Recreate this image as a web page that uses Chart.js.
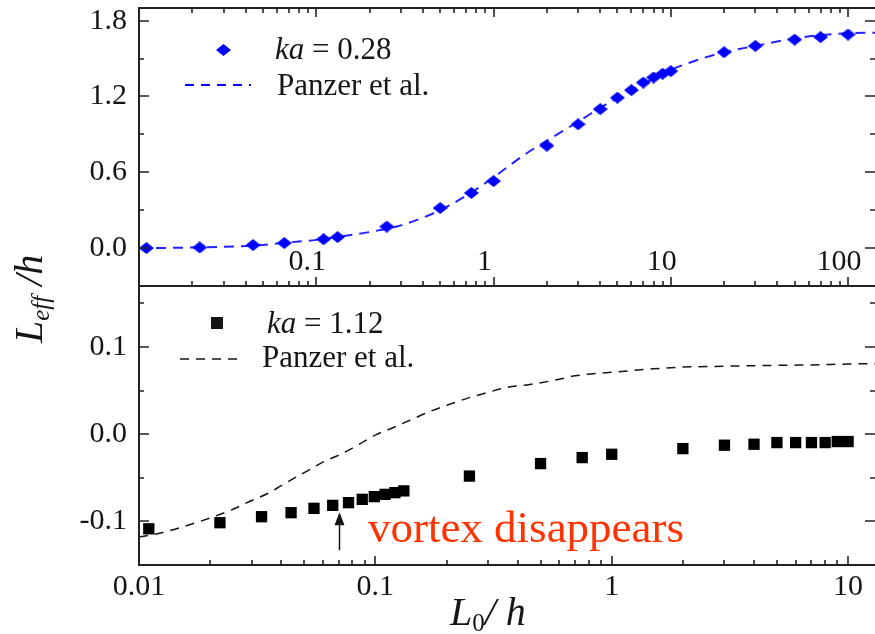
<!DOCTYPE html>
<html>
<head>
<meta charset="utf-8">
<script src="https://cdn.jsdelivr.net/npm/chart.js@4.4.0/dist/chart.umd.min.js"></script>
<style>
  html, body { margin: 0; padding: 0; background: #fff; }
  #wrap { position: relative; width: 875px; height: 634px; overflow: hidden; }
  #wrap canvas { position: absolute; left: 0; top: 0; }
</style>
</head>
<body>
<div id="wrap">
  <canvas id="topChart" width="875" height="634"></canvas>
  <canvas id="bottomChart" width="875" height="634"></canvas>
</div>
<script>
/* ── Data: upper panel (ka = 0.28) ── */
const topX = [0.011, 0.022, 0.044, 0.066, 0.11, 0.132, 0.25, 0.5, 0.75, 1, 2, 3, 4, 5, 6, 7, 8, 9, 10, 20, 30, 50, 70, 100];
const topY = [0.0, 0.005, 0.024, 0.04, 0.07, 0.087, 0.17, 0.317, 0.436, 0.53, 0.81, 0.98, 1.10, 1.19, 1.25, 1.31, 1.35, 1.38, 1.40, 1.55, 1.60, 1.65, 1.67, 1.69];
const topFitX = [0.01, 0.02, 0.03, 0.05, 0.07, 0.1, 0.15, 0.2, 0.3, 0.5, 0.75, 1, 1.5, 2, 3, 4, 5, 7, 10, 15, 20, 30, 50, 70, 100, 142];
const topFitY = [0.0, 0.004, 0.01, 0.025, 0.045, 0.065, 0.1, 0.127, 0.18, 0.30, 0.44, 0.56, 0.74, 0.85, 1.0, 1.11, 1.19, 1.30, 1.41, 1.50, 1.55, 1.60, 1.66, 1.685, 1.70, 1.705];

/* ── Data: lower panel (ka = 1.12) ── */
const botX = [0.011, 0.022, 0.033, 0.044, 0.055, 0.066, 0.077, 0.088, 0.099, 0.11, 0.121, 0.132, 0.25, 0.5, 0.75, 1, 2, 3, 4, 5, 6, 7, 8, 9, 10];
const botY = [-0.1085, -0.1015, -0.0946, -0.090, -0.085, -0.0816, -0.0785, -0.0747, -0.0716, -0.069, -0.067, -0.065, -0.048, -0.0337, -0.0268, -0.023, -0.0165, -0.0126, -0.0115, -0.0096, -0.0096, -0.0096, -0.0096, -0.0084, -0.0084];
const botFitX = [0.01, 0.0125, 0.015, 0.02, 0.025, 0.03, 0.035, 0.04, 0.045, 0.05, 0.06, 0.07, 0.08, 0.09, 0.1, 0.12, 0.14, 0.17, 0.2, 0.25, 0.3, 0.35, 0.45, 0.6, 0.7, 1, 1.5, 2, 3, 5, 7, 10, 13];
const botFitY = [-0.118, -0.113, -0.107, -0.096, -0.086, -0.076, -0.068, -0.059, -0.051, -0.044, -0.032, -0.024, -0.016, -0.008, -0.001, 0.008, 0.016, 0.026, 0.033, 0.042, 0.048, 0.053, 0.057, 0.063, 0.067, 0.071, 0.075, 0.077, 0.078, 0.079, 0.0795, 0.0805, 0.081];

/* ── Axes ── */
const topXTicks  = [0.1, 1, 10, 100];
const topXLabels = ['0.1', '1', '10', '100'];
const topYTicks  = [0, 0.6, 1.2, 1.8];
const topYMinor  = [0.3, 0.9, 1.5];
const botXTicks  = [0.01, 0.1, 1, 10];
const botXLabels = ['0.01', '0.1', '1', '10'];
const botYTicks  = [-0.1, 0, 0.1];
const botYMinor  = [-0.05, 0.05, 0.15];

/* ── Annotation ── */
const arrowX = 0.07, arrowFrom = -0.133, arrowTo = -0.0895;
const noteX = 0.093, noteY = -0.124, noteText = 'vortex disappears';

const SERIF = '"Liberation Serif", "Times New Roman", serif';
const INK = '#151515';
const BLUE = '#0000ff';

function pts(xs, ys) { return xs.map((x, i) => ({ x, y: ys[i] })); }

function logMinors(lo, hi) {
  const out = [];
  for (let d = lo; d < hi; d *= 10)
    for (let m = 2; m <= 9; m++) {
      const v = +(m * d).toPrecision(3);
      if (v < hi) out.push(v);
    }
  return out;
}

function makeDiamond(w, h, color) {
  const c = document.createElement('canvas');
  c.width = w; c.height = h;
  const g = c.getContext('2d');
  g.fillStyle = color;
  g.beginPath();
  g.moveTo(w / 2, 0); g.lineTo(w, h / 2); g.lineTo(w / 2, h); g.lineTo(0, h / 2);
  g.closePath(); g.fill();
  return c;
}
const diamond = makeDiamond(15, 12, BLUE);

function drawRich(ctx, x, y, parts) {
  parts.forEach(([text, font, dy]) => {
    ctx.font = font;
    ctx.fillText(text, x, y + (dy || 0));
    x += ctx.measureText(text).width;
  });
}

/* ── Frame with inward ticks on every side ── */
const frameTicks = {
  id: 'frameTicks',
  afterDatasetsDraw(chart, args, o) {
    const { ctx, chartArea: a, scales: { x, y } } = chart;
    ctx.save();
    ctx.strokeStyle = '#222';
    ctx.lineWidth = 2;
    ctx.beginPath();
    ctx.moveTo(a.right + 2, a.top); ctx.lineTo(a.left, a.top);
    ctx.lineTo(a.left, a.bottom); ctx.lineTo(a.right + 2, a.bottom);
    ctx.stroke();

    ctx.lineWidth = 1.6;
    ctx.beginPath();
    const xt = (vals, len) => vals.forEach(v => {
      if (v <= x.min || v >= x.max) return;
      const p = Math.round(x.getPixelForValue(v));
      ctx.moveTo(p, a.bottom); ctx.lineTo(p, a.bottom - len);
      if (o.topEdge) { ctx.moveTo(p, a.top); ctx.lineTo(p, a.top + len); }
    });
    const yt = (vals, len) => vals.forEach(v => {
      if (v <= y.min || v >= y.max) return;
      const p = Math.round(y.getPixelForValue(v));
      ctx.moveTo(a.left, p); ctx.lineTo(a.left + len, p);
      ctx.moveTo(a.right, p); ctx.lineTo(a.right - len, p);
    });
    xt(o.xMajor, 9); xt(o.xMinor, 5);
    yt(o.yMajor, 10); yt(o.yMinor, 5);
    ctx.stroke();
    ctx.restore();
  }
};

/* ── Upper panel extras: inner x labels, legend, y title ── */
const topExtras = {
  id: 'topExtras',
  afterDraw(chart) {
    const { ctx, chartArea: a, scales: { x } } = chart;
    ctx.save();
    ctx.fillStyle = INK;
    ctx.textAlign = 'center';
    ctx.font = `30px ${SERIF}`;
    topXTicks.forEach((v, i) => ctx.fillText(topXLabels[i], x.getPixelForValue(v) - 9, a.bottom - 16));

    // legend
    ctx.textAlign = 'left';
    ctx.drawImage(diamond, a.left + 84 - 7, a.top + 42 - 6);
    drawRich(ctx, a.left + 136, a.top + 51, [['ka', `italic 31px ${SERIF}`], [' = 0.28', `31px ${SERIF}`]]);
    ctx.strokeStyle = BLUE; ctx.lineWidth = 2; ctx.setLineDash([9, 7]);
    ctx.beginPath(); ctx.moveTo(a.left + 46, a.top + 77); ctx.lineTo(a.left + 112, a.top + 77); ctx.stroke();
    ctx.setLineDash([]);
    drawRich(ctx, a.left + 138, a.top + 87, [['Panzer et al.', `31px ${SERIF}`]]);

    // y title, shared by both panels
    ctx.translate(42, 343);
    ctx.rotate(-Math.PI / 2);
    drawRich(ctx, 0, 0, [['L', `italic 40px ${SERIF}`], ['eff', `italic 25px ${SERIF}`, 7], [' /', `italic 40px ${SERIF}`], ['h', `italic 40px ${SERIF}`]]);
    ctx.restore();
  }
};

/* ── Lower panel extras: legend, arrow, note, x title ── */
const botExtras = {
  id: 'botExtras',
  afterDraw(chart) {
    const { ctx, chartArea: a, scales: { x, y } } = chart;
    ctx.save();
    ctx.fillStyle = INK;
    ctx.textAlign = 'left';

    // legend
    ctx.fillRect(a.left + 78 - 6, a.top + 37 - 6, 12, 12);
    drawRich(ctx, a.left + 128, a.top + 47, [['ka', `italic 31px ${SERIF}`], [' = 1.12', `31px ${SERIF}`]]);
    ctx.strokeStyle = INK; ctx.lineWidth = 1.5; ctx.setLineDash([9, 7]);
    ctx.beginPath(); ctx.moveTo(a.left + 41, a.top + 73); ctx.lineTo(a.left + 105, a.top + 73); ctx.stroke();
    ctx.setLineDash([]);
    drawRich(ctx, a.left + 123, a.top + 81, [['Panzer et al.', `31px ${SERIF}`]]);

    // arrow
    const ax = Math.round(x.getPixelForValue(arrowX)) + 0.5;
    const y0 = y.getPixelForValue(arrowFrom), y1 = y.getPixelForValue(arrowTo);
    ctx.lineWidth = 1.5;
    ctx.beginPath(); ctx.moveTo(ax, y0); ctx.lineTo(ax, y1 + 8); ctx.stroke();
    ctx.beginPath(); ctx.moveTo(ax, y1); ctx.lineTo(ax - 5, y1 + 13); ctx.lineTo(ax + 5, y1 + 13); ctx.closePath(); ctx.fill();

    // note
    ctx.fillStyle = '#ff3300';
    ctx.font = `45px ${SERIF}`;
    ctx.fillText(noteText, x.getPixelForValue(noteX), y.getPixelForValue(noteY));

    // x title
    ctx.fillStyle = INK;
    drawRich(ctx, 450, 625, [['L', `italic 40px ${SERIF}`], ['0', `25px ${SERIF}`, 6], ['/', `italic 40px ${SERIF}`], [' h', `italic 40px ${SERIF}`]]);
    ctx.restore();
  }
};

const tickFont = { family: SERIF, size: 30 };
const hidden = { display: false, drawTicks: false };

function yAxis(min, max, ticks) {
  return {
    min, max,
    grid: hidden, border: { display: false },
    afterBuildTicks: s => { s.ticks = ticks.map(v => ({ value: v })); },
    afterFit: s => { s.width = 139; s.paddingTop = 0; s.paddingBottom = 0; },
    ticks: { font: tickFont, color: INK, padding: 12, callback: v => v.toFixed(1) },
  };
}

/* ── Upper chart ── */
new Chart(document.getElementById('topChart'), {
  type: 'scatter',
  data: {
    datasets: [
      { label: 'ka = 0.28', data: pts(topX, topY), pointStyle: diamond, pointRadius: 7, backgroundColor: BLUE, borderWidth: 0 },
      { label: 'Panzer et al.', data: pts(topFitX, topFitY), showLine: true, pointRadius: 0, borderColor: '#2424ff', borderWidth: 2, borderDash: [10, 7], cubicInterpolationMode: 'monotone' },
    ],
  },
  options: {
    responsive: false, animation: false, devicePixelRatio: 1,
    layout: { autoPadding: false, padding: { top: 8, left: 0, right: 0, bottom: 0 } },
    plugins: {
      legend: { display: false }, tooltip: { enabled: false },
      frameTicks: { topEdge: true, xMajor: topXTicks, xMinor: logMinors(0.01, 142), yMajor: topYTicks, yMinor: topYMinor },
    },
    scales: {
      x: {
        type: 'logarithmic', min: 0.01, max: 142,
        grid: hidden, border: { display: false }, ticks: { display: false },
        afterFit: s => { s.height = 634 - 286; s.paddingLeft = 0; s.paddingRight = 0; },
      },
      y: yAxis(-0.3, 1.9, topYTicks),
    },
  },
  plugins: [frameTicks, topExtras],
});

/* ── Lower chart ── */
new Chart(document.getElementById('bottomChart'), {
  type: 'scatter',
  data: {
    datasets: [
      { label: 'ka = 1.12', data: pts(botX, botY), pointStyle: 'rect', pointRadius: 8, backgroundColor: '#000', borderWidth: 0 },
      { label: 'Panzer et al.', data: pts(botFitX, botFitY), showLine: true, pointRadius: 0, borderColor: INK, borderWidth: 1.5, borderDash: [9, 7], cubicInterpolationMode: 'monotone' },
    ],
  },
  options: {
    responsive: false, animation: false, devicePixelRatio: 1,
    layout: { autoPadding: false, padding: { top: 286, left: 0, right: 0, bottom: 0 } },
    plugins: {
      legend: { display: false }, tooltip: { enabled: false },
      frameTicks: { topEdge: false, xMajor: botXTicks, xMinor: logMinors(0.01, 13), yMajor: botYTicks, yMinor: botYMinor },
    },
    scales: {
      x: {
        type: 'logarithmic', min: 0.01, max: 13,
        grid: hidden, border: { display: false },
        afterBuildTicks: s => { s.ticks = botXTicks.map(v => ({ value: v })); },
        afterFit: s => { s.height = 634 - 565; s.paddingLeft = 0; s.paddingRight = 0; },
        ticks: { font: tickFont, color: INK, padding: 4, maxRotation: 0, autoSkip: false, callback: v => botXLabels[botXTicks.indexOf(v)] },
      },
      y: yAxis(-0.15, 0.17, botYTicks),
    },
  },
  plugins: [frameTicks, botExtras],
});
</script>
</body>
</html>
